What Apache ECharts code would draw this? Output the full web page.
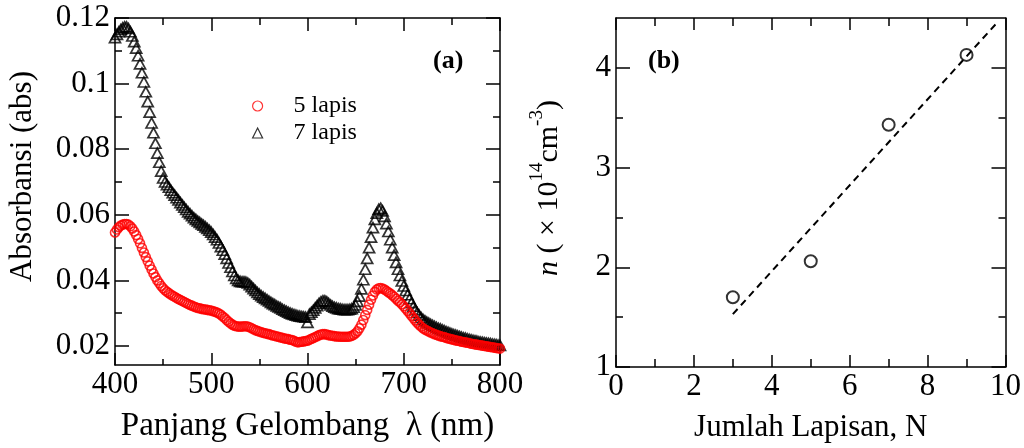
<!DOCTYPE html>
<html><head><meta charset="utf-8">
<script src="https://cdn.jsdelivr.net/npm/echarts@6/dist/echarts.min.js"></script>
<style>html,body{margin:0;padding:0;background:#fff}#c{width:1024px;height:448px}</style>
</head><body><div id="c"></div>
<script>
// ---- data ----
const wavelength = [
400,402,404,406,408,410,412,414,416,418,420,422,424,426,428,430,432,434,436,438,
440,442,444,446,448,450,452,454,456,458,460,462,464,466,468,470,472,474,476,478,
480,482,484,486,488,490,492,494,496,498,500,502,504,506,508,510,512,514,516,518,
520,522,524,526,528,530,532,534,536,538,540,542,544,546,548,550,552,554,556,558,
560,562,564,566,568,570,572,574,576,578,580,582,584,586,588,590,592,594,596,598,
600,602,604,606,608,610,612,614,616,618,620,622,624,626,628,630,632,634,636,638,
640,642,644,646,648,650,652,654,656,658,660,662,664,666,668,670,672,674,676,678,
680,682,684,686,688,690,692,694,696,698,700,702,704,706,708,710,712,714,716,718,
720,722,724,726,728,730,732,734,736,738,740,742,744,746,748,750,752,754,756,758,
760,762,764,766,768,770,772,774,776,778,780,782,784,786,788,790,792,794,796,798,
800];
const abs5lapis = [
.0546,.0555,.0562,.0567,.0570,.0572,.0572,.0570,.0565,.0558,
.0549,.0538,.0526,.0513,.0499,.0485,.0471,.0458,.0445,.0433,
.0421,.0410,.0400,.0391,.0383,.0376,.0370,.0365,.0361,.0357,
.0353,.0350,.0346,.0343,.0340,.0337,.0334,.0331,.0328,.0325,
.0323,.0320,.0318,.0316,.0315,.0313,.0312,.0311,.0310,.0309,
.0308,.0306,.0304,.0302,.0299,.0295,.0290,.0285,.0279,.0274,
.0269,.0265,.0262,.0260,.0259,.0259,.0259,.0260,.0260,.0259,
.0257,.0254,.0251,.0248,.0246,.0244,.0242,.0240,.0239,.0237,
.0236,.0234,.0232,.0231,.0229,.0228,.0226,.0225,.0223,.0222,
.0221,.0219,.0218,.0216,.0213,.0211,.0212,.0213,.0214,.0215,
.0216,.0219,.0222,.0224,.0227,.0230,.0233,.0235,.0236,.0236,
.0235,.0233,.0232,.0231,.0230,.0229,.0229,.0228,.0228,.0228,
.0228,.0228,.0229,.0231,.0234,.0239,.0245,.0254,.0265,.0279,
.0294,.0310,.0326,.0341,.0354,.0365,.0372,.0376,.0377,.0375,
.0372,.0368,.0364,.0360,.0355,.0350,.0344,.0338,.0333,.0327,
.0321,.0314,.0307,.0300,.0292,.0285,.0278,.0271,.0265,.0259,
.0254,.0250,.0247,.0244,.0241,.0239,.0236,.0234,.0232,.0230,
.0228,.0227,.0225,.0223,.0222,.0220,.0219,.0217,.0216,.0215,
.0213,.0212,.0211,.0210,.0209,.0207,.0206,.0205,.0204,.0203,
.0202,.0201,.0200,.0199,.0198,.0197,.0196,.0195,.0194,.0193,
.0192];
const abs7lapis = [
.1140,.1150,.1158,.1165,.1170,.1173,.1173,.1168,.1158,.1145,
.1128,.1108,.1085,.1060,.1033,.1005,.0975,.0945,.0913,.0880,
.0850,.0818,.0788,.0760,.0733,.0712,.0700,.0692,.0684,.0675,
.0667,.0660,.0652,.0645,.0637,.0630,.0623,.0616,.0609,.0603,
.0597,.0591,.0586,.0581,.0577,.0572,.0568,.0563,.0558,.0553,
.0547,.0540,.0532,.0524,.0514,.0503,.0492,.0480,.0467,.0453,
.0440,.0427,.0415,.0406,.0400,.0397,.0396,.0396,.0395,.0392,
.0387,.0381,.0375,.0369,.0363,.0358,.0353,.0349,.0345,.0341,
.0337,.0333,.0329,.0326,.0322,.0319,.0316,.0312,.0309,.0306,
.0303,.0300,.0298,.0296,.0294,.0292,.0291,.0290,.0289,.0288,
.0272,.0297,.0303,.0309,.0316,.0323,.0330,.0335,.0338,.0338,
.0335,.0330,.0325,.0321,.0318,.0316,.0314,.0313,.0312,.0311,
.0311,.0311,.0312,.0314,.0318,.0325,.0336,.0352,.0374,.0402,
.0434,.0467,.0500,.0532,.0561,.0586,.0605,.0617,.0620,.0612,
.0595,.0573,.0549,.0524,.0500,.0477,.0455,.0434,.0415,.0398,
.0383,.0369,.0356,.0344,.0332,.0321,.0311,.0302,.0294,.0287,
.0281,.0277,.0273,.0270,.0266,.0263,.0260,.0257,.0254,.0252,
.0249,.0247,.0244,.0242,.0239,.0237,.0235,.0233,.0231,.0229,
.0227,.0225,.0224,.0222,.0220,.0219,.0217,.0216,.0215,.0213,
.0212,.0211,.0210,.0209,.0208,.0207,.0206,.0205,.0204,.0203,
.0202];
const seriesNames = ['5 lapis', '7 lapis'];
const layers = [3, 5, 7, 9];
const density = [1.70, 2.06, 3.43, 4.13];
const fitLayers = [3, 9.8];
const fitDensity = [1.53, 4.46];
const leftYTicks = [0.02, 0.04, 0.06, 0.08, 0.1, 0.12];
const leftYMinor = [0.03, 0.05, 0.07, 0.09, 0.11];
const rightYTicks = [1, 2, 3, 4];
const rightYMinor = [1.5, 2.5, 3.5];

// ---- chart ----
const F = '"Liberation Serif", "DejaVu Serif", serif';
const K = '#000';
const chart = echarts.init(document.getElementById('c'), null, {renderer: 'canvas'});

function xAx(grid, pos, min, max, interval, majLen, minLen, showLabel, name, nameSize) {
  return {
    type: 'value', gridIndex: grid, position: pos, min: min, max: max, interval: interval,
    axisLine: {show: true, onZero: false, lineStyle: {color: K, width: 1.5}},
    axisTick: {show: true, inside: true, length: majLen, lineStyle: {color: K, width: 1.5}},
    minorTick: {show: true, splitNumber: 2, length: minLen, lineStyle: {color: K, width: 1.5}},
    splitLine: {show: false}, minorSplitLine: {show: false},
    axisLabel: {show: showLabel, fontFamily: F, fontSize: 31, color: K, margin: 4},
    name: name || '', nameLocation: 'middle', nameGap: 45,
    nameTextStyle: {fontFamily: F, fontSize: nameSize || 31, color: K}
  };
}
function yAx(grid, pos, min, max, ticks, len, showLine, showLabel, extra) {
  return Object.assign({
    type: 'value', gridIndex: grid, position: pos, min: min, max: max,
    axisLine: {show: showLine, onZero: false, lineStyle: {color: K, width: 1.5}},
    axisTick: {show: true, inside: true, length: len, customValues: ticks, lineStyle: {color: K, width: 1.5}},
    splitLine: {show: false},
    axisLabel: {show: showLabel, customValues: ticks, fontFamily: F, fontSize: 31, color: K, margin: 5}
  }, extra || {});
}

const pts5 = wavelength.map((w, i) => [w, abs5lapis[i]]);
const pts7 = wavelength.map((w, i) => [w, abs7lapis[i]]);
const ptsN = layers.map((n, i) => [n, density[i]]);
const ptsFit = fitLayers.map((n, i) => [n, fitDensity[i]]);

const option = {
  animation: false,
  backgroundColor: '#fff',
  title: [
    {text: '(a)', left: 433, top: 48, padding: 0, textStyle: {fontFamily: F, fontSize: 26, fontWeight: 'bold', color: K}},
    {text: '(b)', left: 648, top: 48, padding: 0, textStyle: {fontFamily: F, fontSize: 26, fontWeight: 'bold', color: K}}
  ],
  legend: {
    data: seriesNames, orient: 'vertical', left: 247, top: 89, itemWidth: 10, itemHeight: 10, itemGap: 3,
    selectedMode: false, formatter: '{t|{name}}',
    itemStyle: {borderWidth: 1.2},
    textStyle: {fontFamily: F, fontSize: 24, color: K,
      rich: {t: {fontFamily: F, fontSize: 24, color: K, lineHeight: 24, padding: [0, 0, 0, 26]}}}
  },
  grid: [
    {left: 115, top: 18, width: 385, height: 347},
    {left: 616, top: 18, width: 390, height: 351}
  ],
  xAxis: [
    xAx(0, 'bottom', 400, 800, 100, 12, 6, true, 'Panjang Gelombang  \u03BB (nm)', 33),
    xAx(0, 'top', 400, 800, 100, 13, 7, false),
    xAx(1, 'bottom', 0, 10, 2, 12, 8, true, 'Jumlah Lapisan, N', 31),
    xAx(1, 'top', 0, 10, 2, 12, 8, false)
  ],
  yAxis: [
    yAx(0, 'left', 0.0142, 0.12, leftYTicks, 14, true, true, {
      name: 'Absorbansi (abs)', nameLocation: 'middle', nameGap: 77,
      nameTextStyle: {fontFamily: F, fontSize: 31, color: K, padding: [0, 0, 0, 30]}
    }),
    yAx(0, 'left', 0.0142, 0.12, leftYMinor, 7, false, false),
    yAx(0, 'right', 0.0142, 0.12, leftYTicks, 14, true, false),
    yAx(0, 'right', 0.0142, 0.12, leftYMinor, 7, false, false),
    yAx(1, 'left', 1, 4.5, rightYTicks, 14, true, true, {
      name: '{i|n}{m| ( \u00D7 10}{s|14}{m|cm}{s|-3}{m|)}', nameLocation: 'middle', nameGap: 52,
      nameTextStyle: {fontFamily: F, fontSize: 30, color: K, padding: [0, 0, 0, 9],
        rich: {
          i: {fontFamily: F, fontSize: 30, fontStyle: 'italic', color: K, padding: [6, 0, 0, 0]},
          m: {fontFamily: F, fontSize: 30, color: K, padding: [6, 0, 0, 0]},
          s: {fontFamily: F, fontSize: 19, color: K, verticalAlign: 'top'}
        }}
    }),
    yAx(1, 'left', 1, 4.5, rightYMinor, 7, false, false),
    yAx(1, 'right', 1, 4.5, rightYTicks, 14, true, false),
    yAx(1, 'right', 1, 4.5, rightYMinor, 7, false, false)
  ],
  series: [
    {name: seriesNames[1], type: 'scatter', xAxisIndex: 0, yAxisIndex: 0, data: pts7,
     symbol: 'triangle', symbolSize: [11, 10], large: false,
     itemStyle: {color: 'rgba(255,255,255,0)', borderColor: K, borderWidth: 1.7}},
    {name: seriesNames[0], type: 'scatter', xAxisIndex: 0, yAxisIndex: 0, data: pts5,
     symbol: 'circle', symbolSize: 9, large: false,
     itemStyle: {color: 'rgba(255,255,255,0)', borderColor: '#ff0000', borderWidth: 1.6}},
    {name: 'fit', type: 'line', xAxisIndex: 2, yAxisIndex: 4, data: ptsFit, symbol: 'none',
     lineStyle: {color: K, width: 2, type: [7, 5]}},
    {name: 'n', type: 'scatter', xAxisIndex: 2, yAxisIndex: 4, data: ptsN, symbol: 'circle', symbolSize: 12,
     itemStyle: {color: '#fff', borderColor: K, borderWidth: 2}}
  ]
};
chart.setOption(option);
</script>
</body></html>
